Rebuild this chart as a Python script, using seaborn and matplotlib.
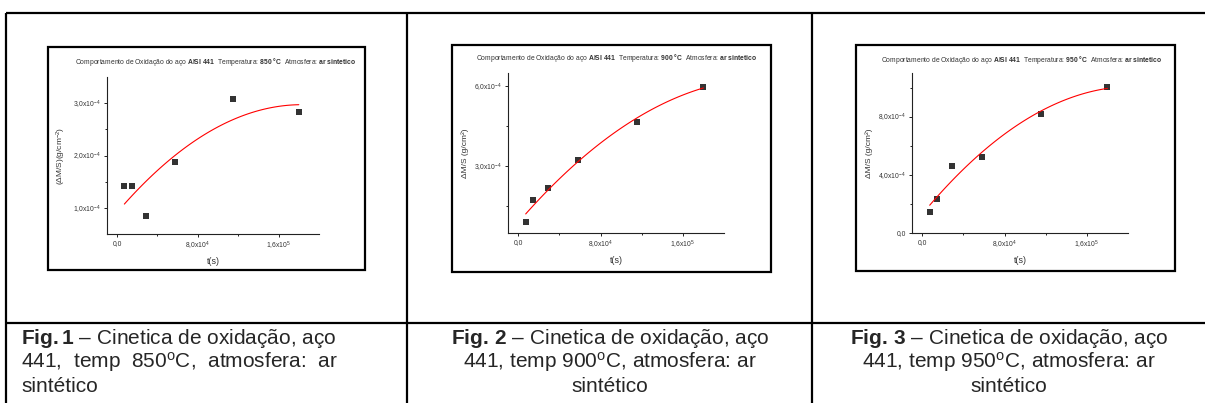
import numpy as np
import pandas as pd
import matplotlib
matplotlib.use("Agg")
import matplotlib.pyplot as plt
import seaborn as sns
from matplotlib.patches import Rectangle

sns.set_style("ticks")
plt.rcParams['font.family'] = ['Liberation Sans', 'DejaVu Sans']
plt.rcParams['mathtext.fontset'] = 'custom'
plt.rcParams['mathtext.rm'] = 'Liberation Sans'
plt.rcParams['mathtext.it'] = 'Liberation Sans:italic'
plt.rcParams['mathtext.bf'] = 'Liberation Sans:bold'

# Exposure times (s): 2, 4, 8, 16, 32, 50 h
t_s = [7200, 14400, 28800, 57600, 115200, 180000]

# Mass gain per area, in units of 1e-4 g/cm2
dm_850 = [1.42, 1.41, 0.84, 1.885, 3.075, 2.84]
dm_900 = [0.93, 1.73, 2.20, 3.24, 4.66, 5.99]
dm_950 = [1.47, 2.32, 4.60, 5.22, 8.21, 10.02]

temps = ["850", "900", "950"]
series = [dm_850, dm_900, dm_950]
ylabels = ["(ΔM/S)(g/cm$^{-2}$)", "ΔM/S (g/cm²)", "ΔM/S (g/cm²)"]

# y axis setup for each chart
ylims = [(0.5, 3.5), (0.5, 6.5), (0.0, 11.0)]
yticks_major = [[1, 2, 3], [3, 6], [0, 4, 8]]
yticks_minor = [[1.5, 2.5], [1.5, 4.5], [2, 6, 10]]
ytick_labels = [
    ["1,0x10$^{-4}$", "2,0x10$^{-4}$", "3,0x10$^{-4}$"],
    ["3,0x10$^{-4}$", "6,0x10$^{-4}$"],
    ["0,0", "4,0x10$^{-4}$", "8,0x10$^{-4}$"],
]
xticks_major = [0, 80000, 160000]
xticks_minor = [40000, 120000]
xtick_labels = ["0,0", "8,0x10$^4$", "1,6x10$^5$"]

W, H = 1205, 403
fig = plt.figure(figsize=(W / 100, H / 100), dpi=100)

# background layer in pixel coordinates for the table and frames
bg = fig.add_axes([0, 0, 1, 1])
bg.set_xlim(0, W)
bg.set_ylim(H, 0)
bg.axis("off")
bg.hlines([13, 323], 6, W, color="black", lw=1.6)
bg.vlines([6, 407, 812], 13, H, color="black", lw=1.6)

boxes = [(48, 47, 317, 223), (452, 45, 319, 227), (856, 45, 319, 226)]
for bx, by, bw, bh in boxes:
    bg.add_patch(Rectangle((bx, by), bw, bh, fill=False, ec="black", lw=1.6))

# axes rectangles in pixels: left, top, right, bottom
axes_px = [(107, 77, 319, 234), (508, 73, 724, 233), (912, 73, 1128, 233)]
title_pos = [(216, 62), (617, 58), (1022, 60)]

for i in range(3):
    l, t, r, b = axes_px[i]
    ax = fig.add_axes([l / W, 1 - b / H, (r - l) / W, (b - t) / H])
    ax.patch.set_alpha(0)
    df = pd.DataFrame({"t": t_s, "dm": series[i]})
    sns.regplot(data=df, x="t", y="dm", order=2, ci=None, marker="s", ax=ax,
                scatter_kws=dict(color="black", s=17, linewidths=0),
                line_kws=dict(color="red", lw=0.8))
    sns.despine(ax=ax)
    ax.set_xlim(-10000, 200000)
    ax.set_ylim(*ylims[i])
    ax.set_xticks(xticks_major)
    ax.set_xticklabels(xtick_labels)
    ax.set_xticks(xticks_minor, minor=True)
    ax.set_yticks(yticks_major[i])
    ax.set_yticklabels(ytick_labels[i])
    ax.set_yticks(yticks_minor[i], minor=True)
    ax.tick_params(which="major", direction="out", length=2.5, width=0.7,
                   labelsize=4.9, pad=2, color="#222222", labelcolor="#333333")
    ax.tick_params(which="minor", direction="out", length=1.5, width=0.7,
                   color="#222222")
    for s in ["left", "bottom"]:
        ax.spines[s].set_linewidth(0.8)
        ax.spines[s].set_color("#222222")
    ax.set_xlabel("t(s)", fontsize=6.5, labelpad=3, color="#333333")
    ax.set_ylabel(ylabels[i], fontsize=6, labelpad=4, color="#333333")

    tx, ty = title_pos[i]
    bg.text(tx, ty,
            "Comportamento de Oxidação do aço $\\bf{AISI\\ 441}$  Temperatura: "
            "$\\bf{" + temps[i] + "\\ °C}$  Atmosfera: $\\bf{ar\\ sintetico}$",
            fontsize=4.9, ha="center", va="center", color="#333333")

# captions
cap_size = 15
rows = [339, 362, 386]
bg.text(21, rows[0], "$\\bf{Fig.1}$ – Cinetica de oxidação, aço",
        fontsize=cap_size, ha="left", va="center")
bg.text(21, rows[1], "441,  temp  850$^{\\rm o}$C,  atmosfera:  ar",
        fontsize=cap_size, ha="left", va="center")
bg.text(21, rows[2], "sintético", fontsize=cap_size, ha="left", va="center")

for cx, n, temp in [(610, "2", "900"), (1009, "3", "950")]:
    bg.text(cx, rows[0], "$\\bf{Fig.\\," + n + "}$ – Cinetica de oxidação, aço",
            fontsize=cap_size, ha="center", va="center")
    bg.text(cx, rows[1], "441, temp " + temp + "$^{\\rm o}$C, atmosfera: ar",
            fontsize=cap_size, ha="center", va="center")
    bg.text(cx, rows[2], "sintético", fontsize=cap_size, ha="center", va="center")

fig.savefig("out.png", dpi=100)
